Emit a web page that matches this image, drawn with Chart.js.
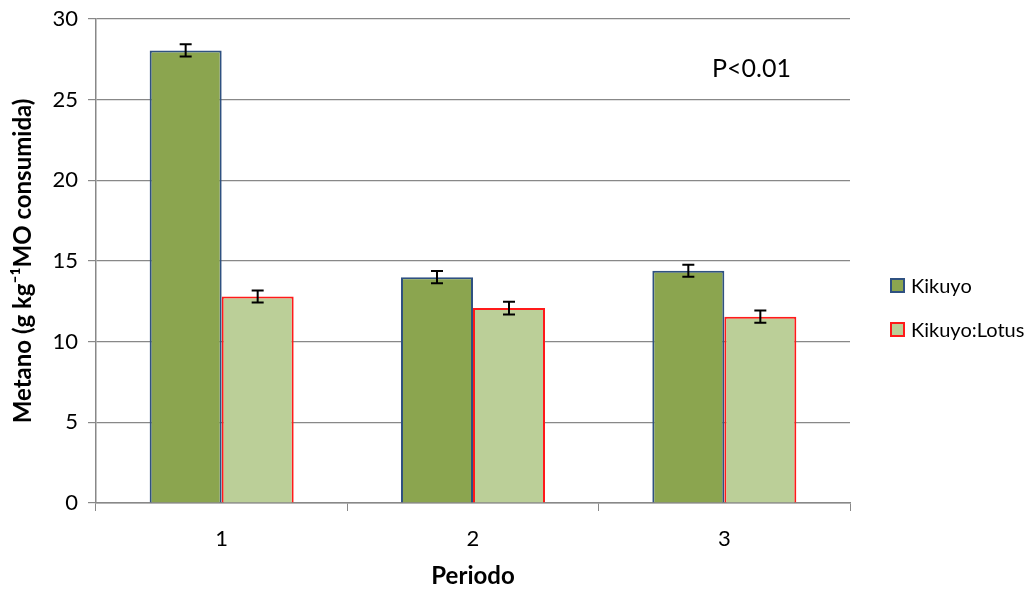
<!DOCTYPE html>
<html>
<head>
<meta charset="utf-8">
<script src="https://cdn.jsdelivr.net/npm/chart.js@4"></script>
<style>
  html, body { margin: 0; padding: 0; background: #fff; }
  #wrap { position: relative; width: 1029px; height: 590px; }
  .leg { position: absolute; left: 890px; font-family: Lato, "Open Sans", sans-serif; font-size: 20px; color: #000; display: flex; align-items: center; }
  .leg span.box { display: inline-block; width: 11px; height: 11px; margin-right: 6px; border-width: 2px; border-style: solid; }
</style>
</head>
<body>
<div id="wrap">
  <canvas id="chart" width="1029" height="590"></canvas>
  <div class="leg" style="top:273px"><span class="box" style="background:#8BA54F;border-color:#2F5181"></span>Kikuyo</div>
  <div class="leg" style="top:317px"><span class="box" style="background:#BBCF98;border-color:#FF1A1A"></span>Kikuyo:Lotus</div>
</div>
<script>
const periods = ['1', '2', '3'];
const kikuyo = [28.05, 14.0, 14.4];
const kikuyoErr = [0.38, 0.38, 0.37];
const lotus = [12.8, 12.08, 11.55];
const lotusErr = [0.37, 0.39, 0.38];
const yTicks = [0, 5, 10, 15, 20, 25, 30];
const errors = [kikuyoErr, lotusErr];

const fontFamily = 'Lato, "Open Sans", sans-serif';

// draws the error bars and the P-value note
const extras = {
  id: 'extras',
  afterDatasetsDraw(chart) {
    const ctx = chart.ctx;
    const y = chart.scales.y;
    ctx.save();
    ctx.strokeStyle = '#000';
    ctx.lineWidth = 2;
    chart.data.datasets.forEach((ds, i) => {
      chart.getDatasetMeta(i).data.forEach((bar, j) => {
        const v = ds.data[j];
        const e = errors[i][j];
        const top = y.getPixelForValue(v + e);
        const bot = y.getPixelForValue(v - e);
        ctx.beginPath();
        ctx.moveTo(bar.x, top); ctx.lineTo(bar.x, bot);
        ctx.moveTo(bar.x - 6, top); ctx.lineTo(bar.x + 6, top);
        ctx.moveTo(bar.x - 6, bot); ctx.lineTo(bar.x + 6, bot);
        ctx.stroke();
      });
    });
    const a = chart.chartArea;
    ctx.fillStyle = '#000';
    ctx.font = '25px ' + fontFamily;
    ctx.textBaseline = 'middle';
    ctx.fillText('P<0.01', a.right - 138, a.top + 50);
    ctx.restore();
  }
};

new Chart(document.getElementById('chart'), {
  type: 'bar',
  data: {
    labels: periods,
    datasets: [
      { label: 'Kikuyo', data: kikuyo, backgroundColor: '#8BA54F', borderColor: '#2F5181', borderWidth: 2 },
      { label: 'Kikuyo:Lotus', data: lotus, backgroundColor: '#BBCF98', borderColor: '#FF1A1A', borderWidth: 2 }
    ]
  },
  options: {
    responsive: false,
    animation: false,
    layout: { padding: { top: 19, right: 179, left: 5, bottom: -5 } },
    datasets: { bar: { categoryPercentage: 0.573, barPercentage: 1.0 } },
    plugins: { legend: { display: false }, tooltip: { enabled: false } },
    scales: {
      x: {
        grid: { offset: true, drawOnChartArea: false, color: '#888', tickLength: 8 },
        border: { color: '#888', width: 1.5 },
        ticks: { color: '#000', font: { size: 22, family: fontFamily }, padding: 15 },
        title: { display: true, text: 'Periodo', color: '#000', font: { size: 24, weight: 'bold', family: fontFamily }, padding: { top: 7 } },
        afterFit(s) { s.height = 92; s.paddingLeft = 0; s.paddingRight = 0; }
      },
      y: {
        min: 0, max: 30,
        afterBuildTicks(s) { s.ticks = yTicks.map(v => ({ value: v })); },
        grid: { color: '#888', lineWidth: 1.2, tickLength: 8 },
        border: { color: '#888', width: 1.5 },
        ticks: { color: '#000', font: { size: 22, family: fontFamily }, padding: 10 },
        title: { display: true, text: 'Metano (g kg\u207B\u00B9MO consumida)', color: '#000', font: { size: 24, weight: 'bold', family: fontFamily }, padding: { bottom: 2 } },
        afterFit(s) { s.width = 91; s.paddingTop = 0; s.paddingBottom = 0; }
      }
    }
  },
  plugins: [extras]
});
</script>
</body>
</html>
